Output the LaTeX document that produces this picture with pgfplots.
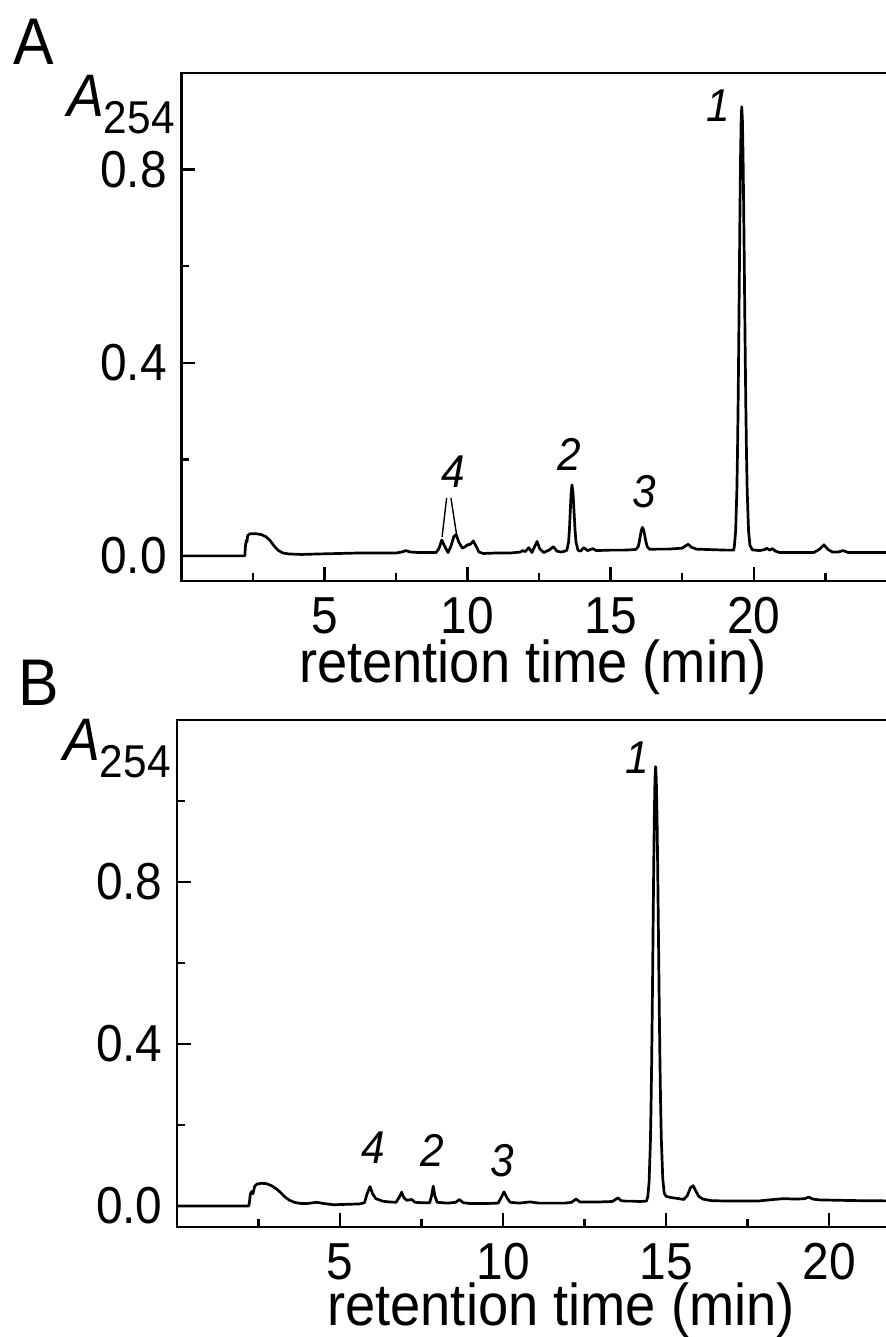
\documentclass[border=0pt]{standalone}
\usepackage{fontspec}
\setmainfont{Liberation Sans}[FakeStretch=0.92]
\usepackage{pgfplots}
\pgfplotsset{compat=1.18}

\newcommand\tickfont{\fontsize{26}{28}\selectfont}
\newcommand\labfont{\fontsize{29.5}{32}\selectfont}
\newcommand\pkfont{\fontsize{23}{25}\selectfont\itshape}

\pgfplotsset{
  chrom/.style={
    scale only axis, anchor=south west,
    axis line style={line width=1.2pt},
    tick style={line width=1.2pt, black},
    tick align=inside, tick pos=left,
    major tick length=7pt, minor tick length=4pt,
    xtick={5,10,15,20}, minor xtick={2.5,7.5,12.5,17.5,22.5},
    /pgf/number format/assume math mode=true,
    xticklabel style={font=\tickfont, inner sep=0pt, yshift=-8pt},
    yticklabel style={font=\tickfont, inner sep=0pt, xshift=-7pt,
      /pgf/number format/fixed, /pgf/number format/fixed zerofill,
      /pgf/number format/precision=1},
    xlabel={retention time (min)},
    clip=false,
  },
  trace/.style={black, line width=1.35pt, line join=round},
}

\begin{document}
\begin{tikzpicture}

% ---------- panel A ----------
\begin{axis}[chrom,
  at={(90.65pt,-290.5pt)}, width=354.35pt, height=254pt,
  xmin=0, xmax=24.76, ymin=-0.052, ymax=1.0,
  ytick={0,0.4,0.8}, minor ytick={0.2,0.6},
  xlabel style={font=\labfont, at={(axis description cs:0.496,0)}, anchor=base, yshift=-50.5pt},
]
\addplot[trace] coordinates {
(0,0) (2.22,0) (2.24,0.02) (2.27,0.032) (2.29,0.028) (2.32,0.042) (2.4,0.046)
(2.6,0.046) (2.8,0.044) (2.95,0.040) (3.1,0.032) (3.25,0.020) (3.4,0.011)
(3.55,0.006) (3.75,0.004) (4.2,0.003) (4.8,0.004) (5.5,0.005) (6.2,0.006)
(7.0,0.006) (7.5,0.006) (7.7,0.008) (7.85,0.011) (8.0,0.008) (8.3,0.007)
(8.9,0.007) (9.0,0.015) (9.1,0.033) (9.2,0.02) (9.32,0.007) (9.42,0.02)
(9.52,0.04) (9.6,0.044) (9.7,0.028) (9.82,0.016) (9.92,0.019) (10.0,0.023)
(10.1,0.024) (10.2,0.031) (10.3,0.02) (10.4,0.008) (10.55,0.005) (11.0,0.006)
(11.5,0.006) (11.85,0.008) (11.93,0.011) (12.02,0.009) (12.14,0.017)
(12.25,0.007) (12.35,0.02) (12.43,0.030) (12.52,0.015) (12.66,0.007)
(12.85,0.012) (13.0,0.019) (13.12,0.01) (13.25,0.008) (13.35,0.009)
(13.47,0.0115) (13.53,0.0285) (13.56,0.0545) (13.59,0.093) (13.62,0.131)
(13.65,0.147) (13.685,0.131) (13.72,0.093) (13.755,0.0545) (13.79,0.0285)
(13.86,0.0115) (13.95,0.01) (14.06,0.017) (14.2,0.011) (14.38,0.015)
(14.5,0.011) (15.0,0.012) (15.5,0.012) (15.8,0.013)
(15.885,0.0135) (15.96,0.019) (15.9975,0.028) (16.035,0.041) (16.0725,0.0536)
(16.11,0.059) (16.1525,0.0536) (16.195,0.041) (16.2375,0.028) (16.28,0.019)
(16.365,0.0135) (16.6,0.014) (17.0,0.014) (17.5,0.016) (17.62,0.021)
(17.71,0.024) (17.82,0.018) (18.0,0.014) (18.5,0.013) (19.0,0.012) (19.3,0.012)
(19.325,0.0222) (19.3675,0.0523) (19.41,0.1362) (19.431,0.2106) (19.4525,0.3101)
(19.474,0.4323) (19.495,0.5688) (19.516,0.7049) (19.5375,0.8221) (19.559,0.9017)
(19.58,0.930) (19.604,0.9017) (19.6275,0.8221) (19.651,0.7049) (19.675,0.5688)
(19.699,0.4323) (19.7225,0.3101) (19.746,0.2106) (19.77,0.1362) (19.8175,0.0523)
(19.865,0.0222) (19.95,0.0125) (20.2,0.011) (20.38,0.013) (20.45,0.016)
(20.55,0.012) (20.66,0.015) (20.75,0.01) (20.9,0.007) (21.5,0.007) (22.1,0.007)
(22.3,0.014) (22.45,0.023) (22.6,0.013) (22.75,0.008) (22.95,0.008)
(23.12,0.011) (23.3,0.007) (24.0,0.007) (24.76,0.007)
};
\node[font=\pkfont] at (axis cs:18.75,0.933) {1};
\node[font=\pkfont] at (axis cs:13.55,0.211) {2};
\node[font=\pkfont] at (axis cs:16.17,0.133) {3};
\node[font=\pkfont] at (axis cs:9.49,0.174) {4};
\draw[line width=0.7pt] (axis cs:9.27,0.120) -- (axis cs:9.11,0.039);
\draw[line width=0.7pt] (axis cs:9.42,0.120) -- (axis cs:9.63,0.039);
\end{axis}

% ---------- panel B ----------
\begin{axis}[chrom,
  at={(88.5pt,-613.5pt)}, width=356.5pt, height=253.5pt,
  xmin=0, xmax=21.87, ymin=-0.052, ymax=1.2,
  ytick={0,0.4,0.8}, minor ytick={0.2,0.6,1.0},
  xlabel style={font=\labfont, at={(axis description cs:0.5386,0)}, anchor=base, yshift=-49pt},
]
\addplot[trace] coordinates {
(0,0) (2.2,0) (2.22,0.008) (2.25,0.03) (2.3,0.036) (2.33,0.03) (2.38,0.048)
(2.45,0.054) (2.6,0.056) (2.75,0.055) (2.9,0.05) (3.05,0.042) (3.18,0.033)
(3.3,0.023) (3.45,0.014) (3.6,0.009) (3.8,0.006) (4.0,0.006) (4.28,0.009)
(4.5,0.006) (4.8,0.003) (5.2,0.004) (5.6,0.005) (5.75,0.008) (5.83,0.03)
(5.92,0.048) (6.0,0.03) (6.1,0.018) (6.3,0.012) (6.5,0.01) (6.72,0.009)
(6.82,0.022) (6.89,0.034) (6.96,0.02) (7.05,0.014) (7.2,0.016) (7.3,0.009)
(7.5,0.008) (7.75,0.008) (7.81,0.025) (7.86,0.049) (7.91,0.025) (7.98,0.009)
(8.3,0.007) (8.55,0.009) (8.66,0.016) (8.78,0.008) (9.0,0.006) (9.5,0.006)
(9.85,0.007) (9.94,0.02) (10.03,0.035) (10.12,0.02) (10.22,0.009) (10.5,0.007)
(10.83,0.01) (11.1,0.007) (11.9,0.007) (12.1,0.009) (12.24,0.017) (12.36,0.01)
(12.62,0.01) (13.0,0.01) (13.35,0.011) (13.45,0.016) (13.53,0.02) (13.62,0.013)
(13.75,0.012) (13.91,0.012) (14.2,0.011) (14.4,0.012)
(14.44,0.0229) (14.48,0.0581) (14.52,0.1563) (14.54,0.2433) (14.56,0.3597)
(14.58,0.5027) (14.60,0.6624) (14.62,0.8217) (14.64,0.9588) (14.66,1.0519)
(14.68,1.085) (14.702,1.0522) (14.724,0.9599) (14.746,0.8239) (14.768,0.6659)
(14.79,0.5076) (14.812,0.3658) (14.834,0.2504) (14.856,0.1641) (14.9,0.0668)
(14.944,0.0318) (15.0,0.024) (15.13,0.021) (15.22,0.02) (15.32,0.019)
(15.54,0.016) (15.65,0.025) (15.75,0.045) (15.83,0.05) (15.92,0.036)
(16.0,0.024) (16.13,0.017) (16.4,0.013) (17.0,0.012) (17.87,0.0125)
(18.3,0.016) (18.6,0.018) (19.0,0.017) (19.25,0.018) (19.38,0.022)
(19.5,0.017) (19.7,0.015) (20.3,0.014) (21.0,0.013) (21.87,0.0125)
};
\node[font=\pkfont] at (axis cs:14.11,1.106) {1};
\node[font=\pkfont] at (axis cs:7.84,0.136) {2};
\node[font=\pkfont] at (axis cs:9.98,0.111) {3};
\node[font=\pkfont] at (axis cs:6.01,0.143) {4};
\end{axis}

% panel letters and y labels
\node[anchor=base west, inner sep=0pt, font=\fontsize{33}{35}\selectfont] at (6.5pt,-32.5pt) {A};
\node[anchor=base west, inner sep=0pt, font=\fontsize{33}{35}\selectfont] at (9pt,-352.5pt) {B};
\node[anchor=base east, inner sep=0pt] at (87.5pt,-58.5pt)
  {{\fontsize{30}{32}\selectfont\itshape A}\raisebox{-8.5pt}{\fontsize{23}{25}\selectfont 254}};
\node[anchor=base east, inner sep=0pt] at (85.5pt,-380pt)
  {{\fontsize{30}{32}\selectfont\itshape A}\raisebox{-8.5pt}{\fontsize{23}{25}\selectfont 254}};

\pgfresetboundingbox
\path[use as bounding box] (0pt,0pt) rectangle (442.5pt,-668.5pt);
\end{tikzpicture}
\end{document}
